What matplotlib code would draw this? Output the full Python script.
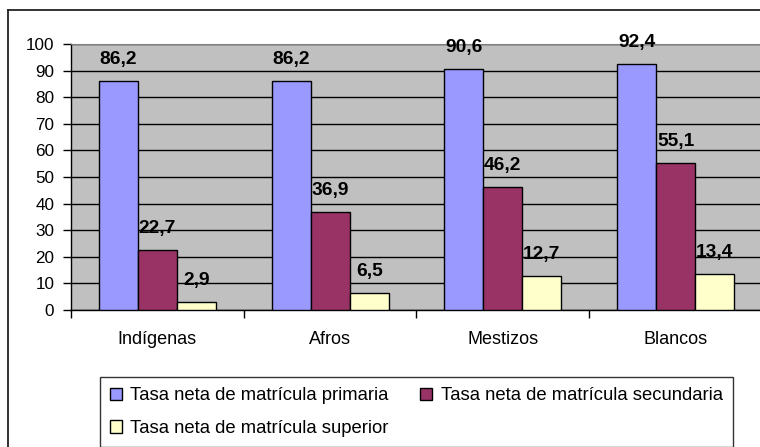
import numpy as np
import matplotlib.pyplot as plt
from matplotlib.lines import Line2D

plt.rcParams['font.family'] = ['Liberation Sans', 'DejaVu Sans']

grupos = ['Indígenas', 'Afros', 'Mestizos', 'Blancos']
primaria = [86.2, 86.2, 90.6, 92.4]
secundaria = [22.7, 36.9, 46.2, 55.1]
superior = [2.9, 6.5, 12.7, 13.4]
series = ['Tasa neta de matrícula primaria',
          'Tasa neta de matrícula secundaria',
          'Tasa neta de matrícula superior']
colores = ['#9999FF', '#993366', '#FFFFCC']

W, H = 760, 447
fig = plt.figure(figsize=(W / 100, H / 100), dpi=100)
ax = fig.add_axes([71 / W, 1 - 310 / H, (762 - 71) / W, (310 - 44) / H])
ax.set_facecolor('#C0C0C0')

x = np.arange(len(grupos))
w = 0.226
handles = []
for i, (vals, lab, col) in enumerate(zip([primaria, secundaria, superior], series, colores)):
    pos = x + (i - 1) * w
    bars = ax.bar(pos, vals, w, color=col, edgecolor='black', linewidth=1, label=lab, zorder=3)
    handles.append(bars)
    for p, v in zip(pos, vals):
        ax.annotate(f'{v:.1f}'.replace('.', ','), (p, v), xytext=(0, 15.5),
                    textcoords='offset points', ha='center', va='center',
                    fontsize=13.8, fontweight='bold', zorder=4)

ax.set_xlim(-0.5, len(grupos) - 0.5)
ax.set_ylim(0, 100)
ax.set_yticks(range(0, 101, 10))
ax.yaxis.grid(True, color='black', linewidth=1, zorder=0)
ax.set_axisbelow(True)

ax.set_xticks(x)
ax.set_xticklabels(grupos)
ax.set_xticks(np.arange(-0.5, len(grupos), 1), minor=True)
ax.tick_params(axis='x', which='major', length=0, pad=15, labelsize=13)
ax.tick_params(axis='x', which='minor', length=6, width=1, direction='out')
ax.tick_params(axis='y', length=6, width=1, pad=6, labelsize=12.3)

ax.spines['top'].set_color('#808080')
ax.spines['right'].set_visible(False)
for s in ['left', 'bottom']:
    ax.spines[s].set_color('black')
    ax.spines[s].set_linewidth(1)

# marco exterior
fig.add_artist(Line2D([8 / W, 8 / W], [-0.1, 1 - 10 / H], color='#222222', linewidth=1.3,
                      transform=fig.transFigure))
fig.add_artist(Line2D([8 / W, 1.1], [1 - 10 / H, 1 - 10 / H], color='#222222', linewidth=1.3,
                      transform=fig.transFigure))

# orden por filas: primaria, secundaria / superior
orden = [0, 2, 1]
leg = fig.legend([handles[k] for k in orden], [series[k] for k in orden],
                 loc='upper left', bbox_to_anchor=(100 / W, 1 - 377 / H), ncol=2,
                 fontsize=13.3, frameon=True, fancybox=False, framealpha=1,
                 edgecolor='#333333', handlelength=0.65, handleheight=0.65,
                 handletextpad=0.45, columnspacing=1.7, labelspacing=0.85,
                 borderpad=0.55, borderaxespad=0)
leg.get_frame().set_linewidth(1)

fig.savefig('out.png', dpi=100)
